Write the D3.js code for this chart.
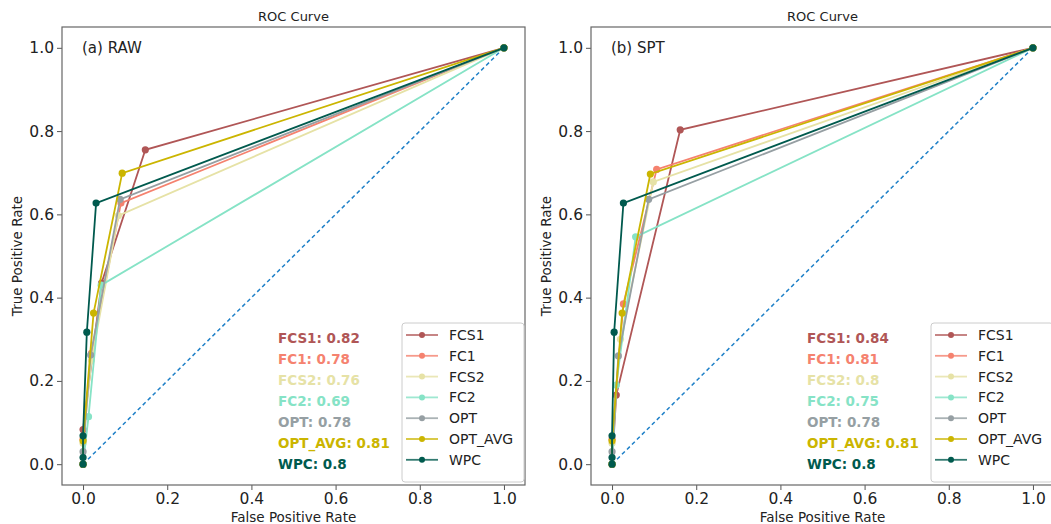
<!DOCTYPE html>
<html>
<head>
<meta charset="utf-8">
<script src="https://cdn.jsdelivr.net/npm/d3@7"></script>
<style>
body { margin: 0; background: #fff; }
text { font-family: "DejaVu Sans", sans-serif; }
</style>
</head>
<body>
<div id="chart"></div>
<script>
var width = 1051, height = 524;

var names = ["FCS1", "FC1", "FCS2", "FC2", "OPT", "OPT_AVG", "WPC"];
var colors = ["#b05656", "#f5826f", "#e6e2a6", "#86e3c6", "#969fa3", "#cbb500", "#005a4e"];

// ROC points [fpr, tpr]
var rawCurves = [
    [[0, 0], [0, 0.083], [0.044, 0.435], [0.148, 0.755], [1, 1]],
    [[0, 0], [0, 0.06], [0.02, 0.266], [0.09, 0.627], [1, 1]],
    [[0, 0], [0, 0.05], [0.02, 0.25], [0.084, 0.597], [1, 1]],
    [[0, 0], [0.013, 0.114], [0.043, 0.43], [1, 1]],
    [[0, 0], [0, 0.03], [0.018, 0.262], [0.088, 0.636], [1, 1]],
    [[0, 0], [0, 0.056], [0.025, 0.363], [0.093, 0.699], [1, 1]],
    [[0, 0], [0, 0.016], [0, 0.068], [0.009, 0.317], [0.031, 0.627], [1, 1]]
];
var sptCurves = [
    [[0, 0], [0.01, 0.166], [0.162, 0.803], [1, 1]],
    [[0, 0], [0, 0.06], [0.027, 0.385], [0.106, 0.708], [1, 1]],
    [[0, 0], [0, 0.05], [0.02, 0.3], [0.098, 0.678], [1, 1]],
    [[0, 0], [0.01, 0.19], [0.056, 0.546], [1, 1]],
    [[0, 0], [0, 0.03], [0.015, 0.26], [0.087, 0.636], [1, 1]],
    [[0, 0], [0, 0.056], [0.024, 0.363], [0.091, 0.697], [1, 1]],
    [[0, 0], [0, 0.016], [0, 0.068], [0.005, 0.317], [0.027, 0.627], [1, 1]]
];
var rawAuc = ["0.82", "0.78", "0.76", "0.69", "0.78", "0.81", "0.8"];
var sptAuc = ["0.84", "0.81", "0.8", "0.75", "0.78", "0.81", "0.8"];
var ticks = [0, 0.2, 0.4, 0.6, 0.8, 1.0];

var svg = d3.select("#chart").append("svg")
    .attr("width", width)
    .attr("height", height);

var panels = [
    {left: 62, label: "(a) RAW", curves: rawCurves, auc: rawAuc},
    {left: 591, label: "(b) SPT", curves: sptCurves, auc: sptAuc}
];

var pw = 463, ph = 458, plotTop = 27;

panels.forEach(function (p) {
    var g = svg.append("g").attr("transform", "translate(" + p.left + "," + plotTop + ")");

    var x = d3.scaleLinear().domain([-0.05, 1.05]).range([0, pw]);
    var y = d3.scaleLinear().domain([-0.05, 1.05]).range([ph, 0]);

    var xAxis = g.append("g").attr("transform", "translate(0," + ph + ")")
        .call(d3.axisBottom(x).tickValues(ticks).tickFormat(d3.format(".1f")).tickSize(5).tickPadding(3));
    var yAxis = g.append("g")
        .call(d3.axisLeft(y).tickValues(ticks).tickFormat(d3.format(".1f")).tickSize(5).tickPadding(3));
    [xAxis, yAxis].forEach(function (a) {
        a.select(".domain").remove();
        a.selectAll("line").attr("stroke", "#555");
        a.selectAll("text").style("font-size", "15.5px").attr("fill", "#222");
    });

    g.append("rect").attr("width", pw).attr("height", ph)
        .attr("fill", "none").attr("stroke", "#666").attr("stroke-width", 1.2);

    // chance line
    g.append("line")
        .attr("x1", x(0)).attr("y1", y(0)).attr("x2", x(1)).attr("y2", y(1))
        .attr("stroke", "#1f80c8").attr("stroke-width", 1.5).attr("stroke-dasharray", "4,3");

    var line = d3.line().x(d => x(d[0])).y(d => y(d[1]));

    p.curves.forEach(function (c, i) {
        g.append("path").datum(c)
            .attr("d", line)
            .attr("fill", "none")
            .attr("stroke", colors[i])
            .attr("stroke-width", 1.8);
        g.selectAll(null).data(c).enter().append("circle")
            .attr("cx", d => x(d[0])).attr("cy", d => y(d[1]))
            .attr("r", 3.6).attr("fill", colors[i]);
    });

    g.append("text").attr("x", 20).attr("y", 26)
        .style("font-size", "15px").attr("fill", "#222").text(p.label);

    svg.append("text").attr("x", p.left + pw / 2).attr("y", 21)
        .attr("text-anchor", "middle").style("font-size", "13px").attr("fill", "#222").text("ROC Curve");

    g.append("text").attr("x", pw / 2).attr("y", ph + 37)
        .attr("text-anchor", "middle").style("font-size", "13.5px").attr("fill", "#222").text("False Positive Rate");
    g.append("text").attr("transform", "translate(-40," + ph / 2 + ") rotate(-90)")
        .attr("text-anchor", "middle").style("font-size", "13.5px").attr("fill", "#222").text("True Positive Rate");

    // AUC text
    names.forEach(function (n, i) {
        g.append("text").attr("x", 216).attr("y", 316 + i * 21)
            .style("font-size", "13.5px").style("font-weight", "bold")
            .attr("fill", colors[i]).text(n + ": " + p.auc[i]);
    });

    // legend
    var lg = g.append("g").attr("transform", "translate(340,296)");
    lg.append("rect").attr("width", 122).attr("height", 159).attr("rx", 3)
        .attr("fill", "#fff").attr("fill-opacity", 0.85).attr("stroke", "#ccc");
    names.forEach(function (n, i) {
        var yy = 12 + i * 20.8;
        lg.append("line").attr("x1", 4).attr("x2", 36).attr("y1", yy).attr("y2", yy)
            .attr("stroke", colors[i]).attr("stroke-width", 1.8).attr("opacity", 0.8);
        lg.append("circle").attr("cx", 20).attr("cy", yy).attr("r", 3).attr("fill", colors[i]);
        lg.append("text").attr("x", 47).attr("y", yy + 5)
            .style("font-size", "14px").attr("fill", "#222").text(n);
    });
});
</script>
</body>
</html>
